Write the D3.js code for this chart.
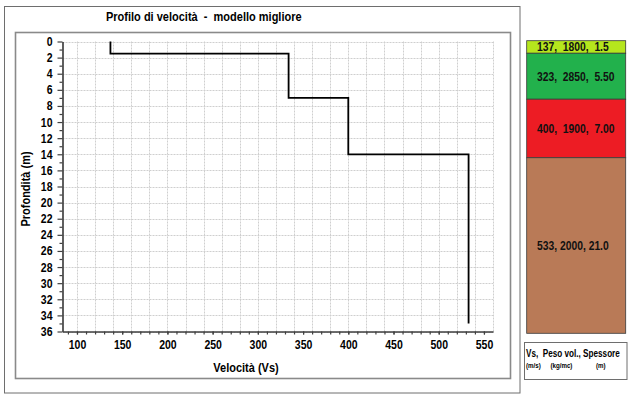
<!DOCTYPE html>
<html>
<head>
<meta charset="utf-8">
<script src="https://cdn.jsdelivr.net/npm/d3@7/dist/d3.min.js"></script>
<style>
  html, body { margin: 0; padding: 0; background: #fff; }
  svg { display: block; font-family: "Liberation Sans", Arial, sans-serif; }
  text { white-space: pre; }
</style>
</head>
<body>
<svg id="chart" width="632" height="410"></svg>
<script>
// ---- data ----
const chartTitle = "Profilo di velocità  -  modello migliore";
const xTitle = "Velocità (Vs)";
const yTitle = "Profondità (m)";
const xTickValues = [100, 150, 200, 250, 300, 350, 400, 450, 500, 550];
const yTickValues = [0, 2, 4, 6, 8, 10, 12, 14, 16, 18, 20, 22, 24, 26, 28, 30, 32, 34, 36];
const xDomain = [84, 560];
const yDomain = [0, 36];
// velocity profile as plotted (m/s) and layer thicknesses (m)
const profileVs = [137, 334, 400, 533];
const layerThickness = [1.5, 5.5, 7.0, 21.0];
// layer column
const layerLabels = ["137,  1800,  1.5", "323,  2850,  5.50", "400,  1900,  7.00", "533, 2000, 21.0"];
const layerColors = ["#b5e61d", "#22b14c", "#ed1c24", "#b97a57"];
const legendMain = "Vs,  Peso vol., Spessore";
const legendUnits = ["(m/s)", "(kg/mc)", "(m)"];

// ---- drawing ----
const svg = d3.select("#chart");
function condense(sel, f) {
  sel.each(function () {
    const w = this.getComputedTextLength();
    d3.select(this).attr("textLength", w * f).attr("lengthAdjust", "spacingAndGlyphs");
  });
}

// frames
svg.append("rect").attr("x", 4.5).attr("y", 6.5).attr("width", 515.5).attr("height", 386.5)
  .attr("fill", "none").attr("stroke", "#6e6e6e").attr("stroke-width", 1);
svg.append("rect").attr("x", 15.5).attr("y", 32.5).attr("width", 495).attr("height", 346)
  .attr("fill", "none").attr("stroke", "#8a8a8a").attr("stroke-width", 1.6);

const plot = { left: 62.5, right: 493, top: 41.5, bottom: 331.5 };
const x = d3.scaleLinear().domain(xDomain).range([plot.left, plot.right]);
const y = d3.scaleLinear().domain(yDomain).range([plot.top, plot.bottom]);

// grid
const grid = svg.append("g").attr("stroke", "#cfcfcf").attr("stroke-width", 1).attr("stroke-dasharray", "2,1");
grid.selectAll("line.h").data(yTickValues).join("line")
  .attr("x1", plot.left).attr("x2", plot.right)
  .attr("y1", d => Math.round(y(d)) + 0.5).attr("y2", d => Math.round(y(d)) + 0.5);
grid.selectAll("line.v").data(d3.range(100, 561, 20)).join("line")
  .attr("y1", plot.top).attr("y2", plot.bottom)
  .attr("x1", d => Math.round(x(d)) + 0.5).attr("x2", d => Math.round(x(d)) + 0.5);

// profile line
const pts = [];
let depth = 0;
profileVs.forEach((v, i) => {
  pts.push([v, depth]);
  depth += layerThickness[i];
  pts.push([v, depth]);
});
svg.append("path")
  .attr("d", d3.line().x(d => x(d[0])).y(d => y(d[1]))(pts))
  .attr("fill", "none").attr("stroke", "#000").attr("stroke-width", 1.8);

// axes
const axisColor = "#404040";
const yMinor = svg.append("g").attr("transform", `translate(${plot.left},0)`)
  .call(d3.axisLeft(y).tickValues(d3.range(1, 36, 2)).tickSize(3).tickSizeOuter(0).tickFormat(""));
const yAxis = svg.append("g").attr("transform", `translate(${plot.left},0)`)
  .call(d3.axisLeft(y).tickValues(yTickValues).tickSize(5).tickSizeOuter(0).tickPadding(5));
const xMinor = svg.append("g").attr("transform", `translate(0,${plot.bottom})`)
  .call(d3.axisBottom(x).tickValues(d3.range(90, 560, 10)).tickSize(3).tickSizeOuter(0).tickFormat(""));
const xAxis = svg.append("g").attr("transform", `translate(0,${plot.bottom})`)
  .call(d3.axisBottom(x).tickValues(xTickValues).tickSize(3).tickSizeOuter(0).tickPadding(6));
[yMinor, yAxis, xMinor, xAxis].forEach(g => {
  g.selectAll("path, line").attr("stroke", axisColor).attr("stroke-width", 1.2);
  g.selectAll("text").attr("fill", "#000").attr("font-size", 12.5).attr("font-weight", "bold")
    .attr("font-family", "'Liberation Sans', Arial, sans-serif");
});
condense(yAxis.selectAll("text"), 0.84);
condense(xAxis.selectAll("text"), 0.84);

// titles
const t = svg.append("text").attr("x", 106).attr("y", 21).text(chartTitle)
  .attr("font-size", 12.5).attr("font-weight", "bold").attr("fill", "#000");
condense(t, 0.88);
const xt = svg.append("text").attr("x", 246).attr("y", 371.5).attr("text-anchor", "middle")
  .text(xTitle).attr("font-size", 12.5).attr("font-weight", "bold");
condense(xt, 0.88);
const yt = svg.append("text").attr("transform", "translate(29.5,189) rotate(-90)").attr("text-anchor", "middle")
  .text(yTitle).attr("font-size", 12.5).attr("font-weight", "bold");
condense(yt, 0.88);

// layer column
const totalDepth = d3.sum(layerThickness);
const yc = d3.scaleLinear().domain([0, totalDepth]).range([40.7, 333.3]);
const tops = layerThickness.map((d, i) => d3.sum(layerThickness.slice(0, i)));
const col = svg.append("g");
col.selectAll("rect").data(layerThickness).join("rect")
  .attr("x", 526.7).attr("width", 99)
  .attr("y", (d, i) => yc(tops[i])).attr("height", d => yc(d) - yc(0))
  .attr("fill", (d, i) => layerColors[i]).attr("stroke", "#3a3a3a").attr("stroke-width", 0.8);
const ll = col.selectAll("text").data(layerLabels).join("text")
  .attr("x", 537).attr("y", (d, i) => yc(tops[i] + layerThickness[i] / 2) + 4.5)
  .attr("font-size", 12).attr("font-weight", "bold").attr("fill", "#111")
  .text(d => d);
condense(ll, 0.86);

// legend box
svg.append("rect").attr("x", 524.5).attr("y", 342.5).attr("width", 102.5).attr("height", 37)
  .attr("fill", "#fff").attr("stroke", "#6e6e6e").attr("stroke-width", 1);
const lm = svg.append("text").attr("x", 0).attr("y", 0).text(legendMain)
  .attr("font-size", 10.5).attr("font-weight", "bold");
const lmW = lm.node().getComputedTextLength();
lm.attr("transform", `translate(526,356.5) scale(${94 / lmW},1)`);
const unitX = [526, 550.5, 596];
const lu = svg.selectAll("text.unit").data(legendUnits).join("text").attr("class", "unit")
  .attr("x", (d, i) => unitX[i]).attr("y", 367.5).text(d => d)
  .attr("font-size", 7).attr("font-weight", "bold");
condense(lu, 0.88);
</script>
</body>
</html>
